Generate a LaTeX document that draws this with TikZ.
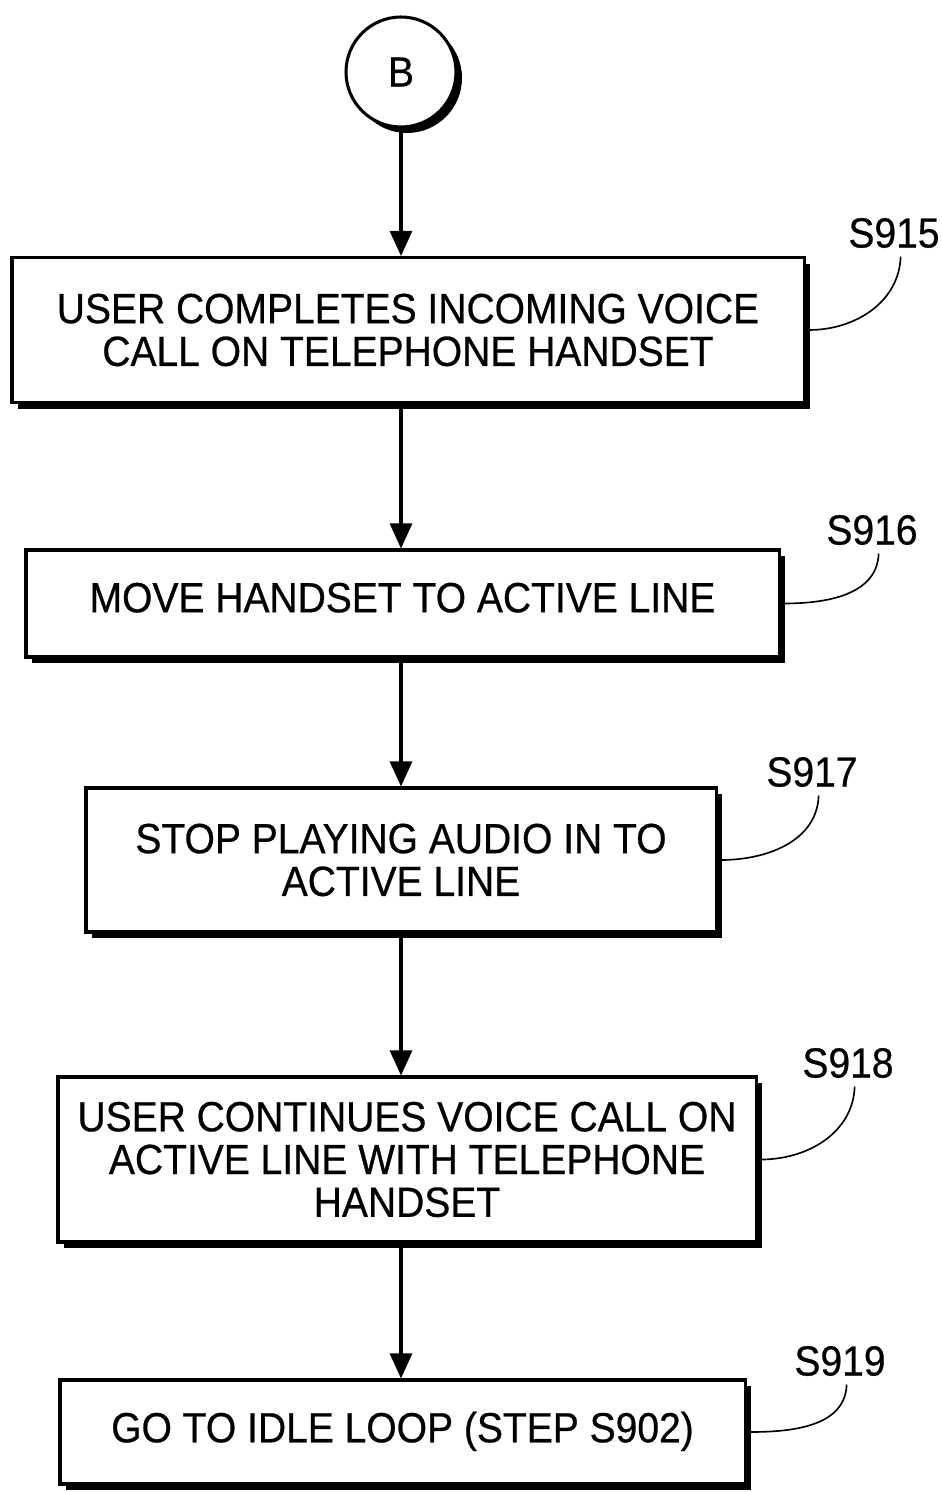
\documentclass[tikz,border=0pt]{standalone}
\usepackage{fontspec}
\setmainfont{Liberation Sans}[FakeStretch=0.925,FakeBold=0.6]
\usetikzlibrary{arrows.meta,shadows}
\tikzset{>={Triangle[width=0.66cm,length=0.75cm]}}
\tikzset{
	stepbox/.style={draw,line width=2.6pt,fill=white,align=center,inner sep=0pt,
		drop shadow={shadow xshift=0.17cm,shadow yshift=-0.19cm,fill=black,opacity=1},
		font=\fontsize{36}{36.5}\selectfont},
	leader/.style={line width=1.4pt},
	steplabel/.style={font=\fontsize{36}{36}\selectfont,inner sep=0pt}
}

\begin{document}
\begin{tikzpicture}[x=0.03cm,y=-0.03cm]
		\useasboundingbox (0,0) rectangle (941,1492);

		% connector circle
		\node[draw,circle,line width=2.6pt,fill=white,minimum size=3.3cm,
			drop shadow={shadow xshift=0.18cm,shadow yshift=-0.18cm,fill=black,opacity=1},
			font=\fontsize{36}{36}\selectfont] (conB) at (401,72) {B};

		% steps
		\node[stepbox,minimum width=23.76cm,minimum height=4.35cm] (s915) at (408,330)
			{USER COMPLETES INCOMING VOICE\\CALL ON TELEPHONE HANDSET};
		\node[stepbox,text depth=0.36cm,minimum width=22.59cm,minimum height=3.21cm] (s916) at (402.5,603.5)
			{MOVE HANDSET TO ACTIVE LINE};
		\node[stepbox,minimum width=18.9cm,minimum height=4.32cm] (s917) at (401,860)
			{STOP PLAYING AUDIO IN TO\\ACTIVE LINE};
		\node[stepbox,minimum width=20.94cm,minimum height=4.95cm] (s918) at (407,1159.5)
			{USER CONTINUES VOICE CALL ON\\ACTIVE LINE WITH TELEPHONE\\HANDSET};
		\node[stepbox,text depth=0.3cm,minimum width=20.55cm,minimum height=3.12cm] (s919) at (402.5,1432)
			{GO TO IDLE LOOP (STEP S902)};

		% flow arrows
		\draw[->,line width=2.6pt] (conB.south) -- (conB.south |- s915.north);
		\draw[->,line width=2.6pt] (conB.south |- s915.south) -- (conB.south |- s916.north);
		\draw[->,line width=2.6pt] (conB.south |- s916.south) -- (conB.south |- s917.north);
		\draw[->,line width=2.6pt] (conB.south |- s917.south) -- (conB.south |- s918.north);
		\draw[->,line width=2.6pt] (conB.south |- s918.south) -- (conB.south |- s919.north);

		% step labels and leaders
		\node[steplabel] (l915) at (894,233) {S915};
		\node[steplabel] (l916) at (872,530) {S916};
		\node[steplabel] (l917) at (812,772) {S917};
		\node[steplabel] (l918) at (848,1063) {S918};
		\node[steplabel] (l919) at (840,1361) {S919};

		\draw[leader] ([xshift=0.1cm]s915.east) to[out=0,in=-92] ([xshift=0.2cm,yshift=-0.25cm]l915.south);
		\draw[leader] ([xshift=0.1cm]s916.east) to[out=0,in=-92] ([xshift=0.2cm,yshift=-0.25cm]l916.south);
		\draw[leader] ([xshift=0.1cm]s917.east) to[out=0,in=-92] ([xshift=0.2cm,yshift=-0.25cm]l917.south);
		\draw[leader] ([xshift=0.1cm]s918.east) to[out=0,in=-92] ([xshift=0.2cm,yshift=-0.25cm]l918.south);
		\draw[leader] ([xshift=0.1cm]s919.east) to[out=0,in=-92] ([xshift=0.2cm,yshift=-0.25cm]l919.south);

	\end{tikzpicture}
\end{document}
